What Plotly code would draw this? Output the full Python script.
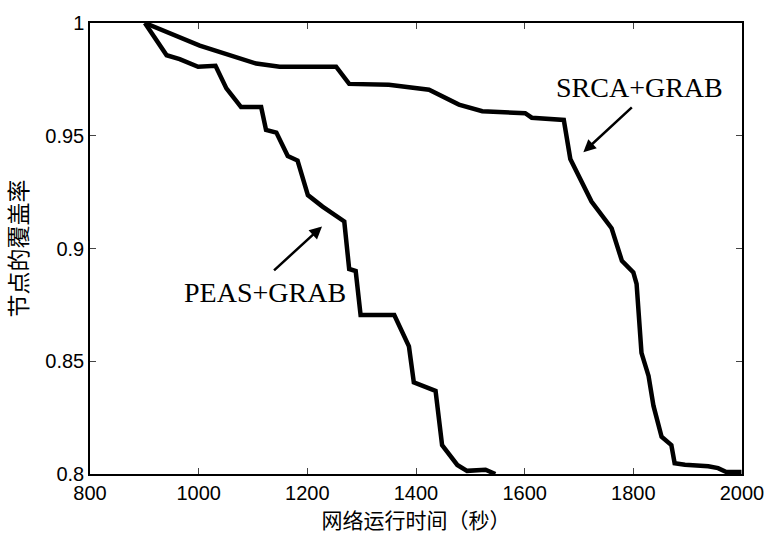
import plotly.graph_objects as go

# PEAS+GRAB curve
peas_x = [901, 941, 965, 999, 1031, 1051, 1078, 1115, 1124, 1143, 1164, 1182, 1201, 1228, 1268,
          1277, 1289, 1298, 1360, 1387, 1396, 1436, 1448, 1476, 1494, 1528, 1546]
peas_y = [1.0, 0.9857, 0.984, 0.9806, 0.981, 0.971, 0.9627, 0.9627, 0.9526, 0.9514, 0.941, 0.939,
          0.9237, 0.9186, 0.912, 0.8909, 0.890, 0.8705, 0.8705, 0.8566, 0.8406, 0.8369, 0.8128,
          0.804, 0.8014, 0.8019, 0.800]

# SRCA+GRAB curve
srca_x = [901, 1002, 1106, 1149, 1253, 1277, 1350, 1424, 1479, 1522, 1601, 1613, 1672, 1684,
          1723, 1760, 1779, 1800, 1806, 1815, 1828, 1837, 1852, 1870, 1876, 1895, 1938, 1956,
          1971, 1999]
srca_y = [1.0, 0.990, 0.982, 0.9806, 0.9806, 0.973, 0.9726, 0.9704, 0.9638, 0.9609, 0.960,
          0.958, 0.957, 0.9397, 0.9208, 0.909, 0.8945, 0.8894, 0.8843, 0.8537, 0.8435, 0.8303,
          0.8165, 0.8128, 0.8048, 0.8041, 0.8034, 0.8026, 0.8009, 0.8009]

x_ticks = [800, 1000, 1200, 1400, 1600, 1800, 2000]
y_ticks = [0.8, 0.85, 0.9, 0.95, 1.0]
y_tick_labels = ["0.8", "0.85", "0.9", "0.95", "1"]

fig = go.Figure()
fig.add_trace(go.Scatter(x=peas_x, y=peas_y, mode="lines",
                         line=dict(color="black", width=4.5), showlegend=False))
fig.add_trace(go.Scatter(x=srca_x, y=srca_y, mode="lines",
                         line=dict(color="black", width=4.5), showlegend=False))

tick_font = dict(family="Liberation Sans, Arial", size=20, color="black")
fig.update_xaxes(range=[800, 2000], tickvals=x_ticks, ticks="inside", ticklen=6,
                 showline=True, linecolor="black", linewidth=1.5, mirror="ticks",
                 showgrid=False, zeroline=False, tickfont=tick_font,
                 title=dict(text="网络运行时间（秒）",
                            font=dict(family="Noto Sans CJK SC", size=21, color="black"),
                            standoff=4))
fig.update_yaxes(range=[0.8, 1.0], tickvals=y_ticks, ticktext=y_tick_labels, ticks="inside",
                 ticklen=6, showline=True, linecolor="black", linewidth=1.5, mirror="ticks",
                 showgrid=False, zeroline=False, tickfont=tick_font,
                 title=dict(text="节点的覆盖率",
                            font=dict(family="Noto Sans CJK SC", size=23, color="black"),
                            standoff=12))

ann_font = dict(family="Liberation Serif, Times New Roman", size=28, color="black")
fig.add_annotation(x=1812, y=0.9716, text="SRCA+GRAB", showarrow=False, font=ann_font)
fig.add_annotation(x=1708, y=0.9427, ax=1800, ay=0.9632, axref="x", ayref="y",
                   xref="x", yref="y", text="", showarrow=True, arrowhead=2,
                   arrowsize=1, arrowwidth=2.5, arrowcolor="black")
fig.add_annotation(x=1122, y=0.8803, text="PEAS+GRAB", showarrow=False, font=ann_font)
fig.add_annotation(x=1227, y=0.9098, ax=1136, ay=0.8897, axref="x", ayref="y",
                   xref="x", yref="y", text="", showarrow=True, arrowhead=2,
                   arrowsize=1, arrowwidth=2.5, arrowcolor="black")

fig.update_layout(width=776, height=534, paper_bgcolor="white", plot_bgcolor="white",
                  margin=dict(l=90, r=32, t=19, b=58))
fig.write_html("out.html")
